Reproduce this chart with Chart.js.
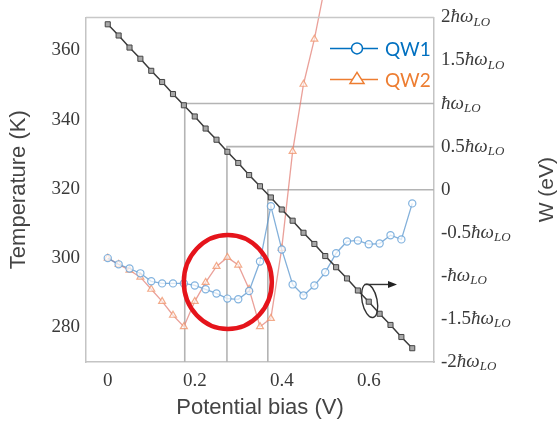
<!DOCTYPE html>
<html>
<head>
<meta charset="utf-8">
<script src="https://cdn.jsdelivr.net/npm/chart.js@4.4.0/dist/chart.umd.min.js"></script>
<style>
  html, body { margin: 0; padding: 0; background: #fff; }
  #wrap { width: 558px; height: 425px; }
</style>
</head>
<body>
<div id="wrap"><canvas id="chart" width="558" height="425"></canvas></div>
<script>
// potential bias (V) sample points
const bias = [0, 0.025, 0.05, 0.075, 0.1, 0.125, 0.15, 0.175, 0.2, 0.225, 0.25, 0.275, 0.3, 0.325,
  0.35, 0.375, 0.4, 0.425, 0.45, 0.475, 0.5, 0.525, 0.55, 0.575, 0.6, 0.625, 0.65, 0.675, 0.7];
// temperature (K), left axis
const qw1 = [300, 298.2, 297.0, 295.6, 293.3, 292.7, 292.7, 292.7, 292.1, 291.0, 289.8, 288.3, 288.1, 290.5,
  299.0, 315.0, 302.5, 292.4, 289.2, 292.1, 295.9, 301.4, 304.8, 305.1, 304.0, 304.2, 306.6, 305.4, 315.8];
const qw2 = [300, 298.2, 296.5, 294.5, 291.0, 287.5, 283.5, 280.2, 287.5, 293.0, 297.6, 300.2, 298.0, 291.0,
  280.2, 282.6, 302.8, 330.8, 350.2, 363.2, 379.0];
// W in units of hbar*omega_LO, right axis
const wLine = [1.92, 1.79, 1.65, 1.52, 1.38, 1.25, 1.11, 0.98, 0.85, 0.71, 0.58, 0.44, 0.31, 0.17,
  0.04, -0.09, -0.23, -0.36, -0.50, -0.63, -0.77, -0.90, -1.03, -1.17, -1.30, -1.44, -1.57, -1.71, -1.84];
// projection guides
const projBias = [0.177, 0.274, 0.368];
const projW = [1, 0.5, 0];

const xTicks = [0, 0.2, 0.4, 0.6];
const tempTicks = [280, 300, 320, 340, 360];
const wTicks = [2, 1.5, 1, 0.5, 0, -0.5, -1, -1.5, -2];
const wTickLabels = ['2ħω_LO', '1.5ħω_LO', 'ħω_LO', '0.5ħω_LO', '0', '-0.5ħω_LO', '-ħω_LO', '-1.5ħω_LO', '-2ħω_LO'];
const seriesNames = ['QW1', 'QW2'];
const legendColors = ['#0070C0', '#ED7D31'];

const pts = (vals) => vals.map((v, i) => ({x: bias[i], y: v}));

const serif = '"Liberation Serif", "DejaVu Serif", serif';
const sans = '"Liberation Sans", Arial, sans-serif';

const guideSets = projBias.map((v, i) => ({
  data: [{x: v, y: -2}, {x: v, y: projW[i]}, {x: 0.75, y: projW[i]}],
  yAxisID: 'yW',
  borderColor: '#b4b4b4',
  borderWidth: 1.6,
  pointRadius: 0,
  order: 5
}));

// everything that isn't a data mark: right tick labels, legend, annotations
const overlay = {
  id: 'overlay',
  afterDraw(chart) {
    const {ctx, chartArea: a, scales} = chart;
    const x = scales.x, yT = scales.yT, yW = scales.yW;
    ctx.save();

    // top frame
    ctx.strokeStyle = '#c8c8c8';
    ctx.lineWidth = 1.5;
    ctx.beginPath();
    ctx.moveTo(a.left, a.top);
    ctx.lineTo(a.right, a.top);
    ctx.stroke();

    // right axis tick labels with subscript
    ctx.fillStyle = '#3a3a3a';
    ctx.textBaseline = 'middle';
    ctx.textAlign = 'left';
    wTicks.forEach((v, i) => {
      const [main, sub] = wTickLabels[i].split('_');
      const k = main.indexOf('ħ');
      const lead = k < 0 ? main : main.slice(0, k);
      const ital = k < 0 ? '' : main.slice(k);
      let px = a.right + 7;
      const py = yW.getPixelForValue(v);
      ctx.font = '19px ' + serif;
      ctx.fillText(lead, px, py);
      px += ctx.measureText(lead).width;
      if (ital) {
        ctx.font = 'italic 19px ' + serif;
        ctx.fillText(ital, px, py);
        px += ctx.measureText(ital).width;
      }
      if (sub) {
        ctx.font = 'italic 13px ' + serif;
        ctx.fillText(sub, px, py + 5);
      }
    });

    // right axis title
    ctx.save();
    ctx.translate(547, (a.top + a.bottom) / 2);
    ctx.rotate(-Math.PI / 2);
    ctx.textAlign = 'center';
    ctx.font = '21px ' + sans;
    ctx.fillStyle = '#444';
    ctx.fillText('W (eV)', 0, 0);
    ctx.restore();

    // legend
    seriesNames.forEach((name, i) => {
      const ly = a.top + 31 + i * 31;
      const lx = a.right - 104;
      ctx.strokeStyle = legendColors[i];
      ctx.lineWidth = 1.5;
      ctx.beginPath();
      ctx.moveTo(lx, ly);
      ctx.lineTo(lx + 48, ly);
      ctx.stroke();
      ctx.fillStyle = '#fff';
      ctx.beginPath();
      if (i === 0) {
        ctx.arc(lx + 27, ly, 5.5, 0, Math.PI * 2);
      } else {
        ctx.moveTo(lx + 27, ly - 7);
        ctx.lineTo(lx + 20, ly + 4);
        ctx.lineTo(lx + 34, ly + 4);
        ctx.closePath();
      }
      ctx.fill();
      ctx.stroke();
      ctx.fillStyle = legendColors[i];
      ctx.font = '19px Lato, "Open Sans", sans-serif';
      ctx.textBaseline = 'middle';
      ctx.fillText(name, lx + 55, ly + 1);
    });

    // ellipse + arrow marking the W curve
    const ex = x.getPixelForValue(0.602), ey = yW.getPixelForValue(-1.29);
    ctx.strokeStyle = '#333';
    ctx.lineWidth = 1.4;
    ctx.beginPath();
    ctx.ellipse(ex, ey, 7.5, 17, -0.2, 0, Math.PI * 2);
    ctx.stroke();
    const ay = yW.getPixelForValue(-1.1);
    const ax0 = x.getPixelForValue(0.59), ax1 = x.getPixelForValue(0.665);
    ctx.beginPath();
    ctx.moveTo(ax0, ay);
    ctx.lineTo(ax1 - 6, ay);
    ctx.stroke();
    ctx.fillStyle = '#222';
    ctx.beginPath();
    ctx.moveTo(ax1, ay);
    ctx.lineTo(ax1 - 9, ay - 3.5);
    ctx.lineTo(ax1 - 9, ay + 3.5);
    ctx.closePath();
    ctx.fill();

    // red highlight circle
    ctx.strokeStyle = '#e5141b';
    ctx.lineWidth = 4.5;
    ctx.beginPath();
    ctx.ellipse(x.getPixelForValue(0.276), yT.getPixelForValue(293.1), 44, 47, 0, 0, Math.PI * 2);
    ctx.stroke();

    ctx.restore();
  }
};

new Chart(document.getElementById('chart'), {
  type: 'line',
  data: {
    datasets: [
      {
        label: 'W',
        data: pts(wLine),
        yAxisID: 'yW',
        borderColor: '#3a3a3a',
        borderWidth: 1.5,
        pointStyle: 'rect',
        pointRadius: 3.6,
        pointBackgroundColor: '#a8a8a8',
        pointBorderColor: '#444',
        pointBorderWidth: 1,
        order: 0
      },
      {
        label: seriesNames[0],
        data: pts(qw1),
        yAxisID: 'yT',
        borderColor: 'rgba(90,150,205,0.75)',
        borderWidth: 1.3,
        pointStyle: 'circle',
        pointRadius: 3.6,
        pointBackgroundColor: 'rgba(255,255,255,0.7)',
        pointBorderColor: 'rgba(100,160,215,0.8)',
        pointBorderWidth: 1.2,
        order: 1
      },
      {
        label: seriesNames[1],
        data: pts(qw2),
        yAxisID: 'yT',
        borderColor: 'rgba(225,120,110,0.7)',
        borderWidth: 1.3,
        pointStyle: 'triangle',
        pointRadius: 4,
        pointBackgroundColor: 'rgba(255,255,255,0.6)',
        pointBorderColor: 'rgba(240,150,110,0.8)',
        pointBorderWidth: 1.2,
        clip: false,
        order: 2
      },
      ...guideSets
    ]
  },
  options: {
    responsive: false,
    animation: false,
    events: [],
    layout: {padding: {top: 16, left: 0, right: 0, bottom: 0}},
    plugins: {legend: {display: false}, tooltip: {enabled: false}},
    elements: {line: {tension: 0}},
    scales: {
      x: {
        type: 'linear',
        position: 'bottom',
        min: -0.05,
        max: 0.75,
        afterBuildTicks: (s) => { s.ticks = xTicks.map(v => ({value: v})); },
        afterFit: (s) => { s.height = 63; },
        grid: {display: false, drawTicks: false},
        border: {display: true, color: '#c4c4c4', width: 1.5},
        ticks: {autoSkip: false, maxRotation: 0, padding: 8, color: '#3a3a3a', font: {family: serif, size: 19}},
        title: {display: true, text: 'Potential bias (V)', color: '#444', font: {family: sans, size: 22}, padding: {top: 0, bottom: 4}}
      },
      yT: {
        position: 'left',
        min: 270,
        max: 369.5,
        afterBuildTicks: (s) => { s.ticks = tempTicks.map(v => ({value: v})); },
        afterFit: (s) => { s.width = 86; },
        grid: {display: false, drawTicks: false},
        border: {display: true, color: '#c4c4c4', width: 1.5},
        ticks: {autoSkip: false, padding: 6, color: '#3a3a3a', font: {family: serif, size: 19}},
        title: {display: true, text: 'Temperature (K)', color: '#444', font: {family: sans, size: 22}, padding: {top: 6, bottom: 0}}
      },
      yW: {
        position: 'right',
        min: -2,
        max: 2,
        afterBuildTicks: (s) => { s.ticks = wTicks.map(v => ({value: v})); },
        afterFit: (s) => { s.width = 124; },
        grid: {display: false, drawTicks: false},
        border: {display: true, color: '#c4c4c4', width: 1.5},
        ticks: {display: false}
      }
    }
  },
  plugins: [overlay]
});
</script>
</body>
</html>
